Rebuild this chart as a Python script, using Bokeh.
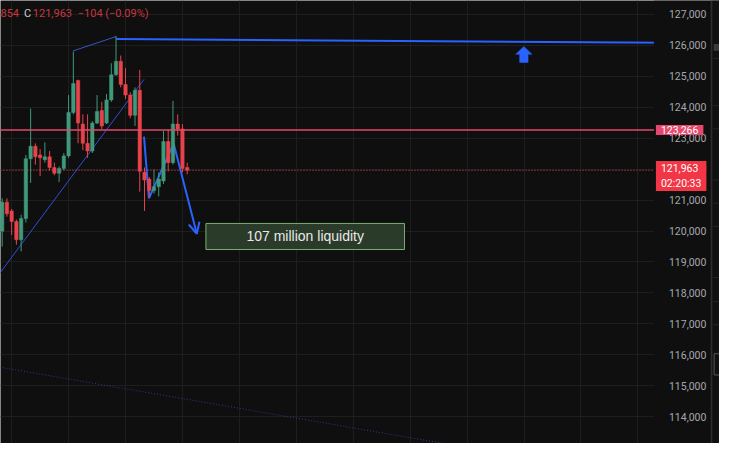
from bokeh.plotting import figure
from bokeh.models import (Range1d, FixedTicker, NumeralTickFormatter, Label,
                          Arrow, OpenHead, ColumnDataSource)
from bokeh.embed import file_html
from bokeh.resources import INLINE

# ---------------- data (bar index, price) ----------------
opens  = [119995,120931,120650,120307,119714,120401,122335,122741,122460,122304,
          122398,122054,121867,122023,122429,123833,124862,123458,122834,122585,
          123490,123895,123490,124238,125050,125486,124738,124394,123739,124550,
          121898,121680,121306,121430,121618,122897,122210,123458,123302,122054]
highs  = [121056,121056,120713,120370,120526,122460,123958,122834,122647,122866,
          122585,122210,122086,122522,124394,125798,124894,123771,123771,123552,
          124394,124176,124426,125424,126298,125674,125268,124488,124644,125206,
          122054,121742,121992,121898,123240,123271,124207,123771,123458,122210]
lows   = [119496,120463,119870,119558,119340,120276,121555,122148,121774,122210,
          121961,121805,121586,121961,122367,123771,122834,122616,122367,122522,
          123458,123302,123458,124176,125018,124644,124270,123646,123396,121274,
          120650,121087,121212,121118,121524,121930,122148,123084,121898,121836]
closes = [120931,120557,120307,119714,120401,122335,122741,122398,122367,122398,
          122054,121867,122023,122429,123833,124769,123490,122834,122585,123490,
          123864,123396,124238,125050,125486,124738,124394,123739,124550,121930,
          121649,121306,121430,121680,122897,122210,123458,123302,122023,121963]

price_ticks = [114000,115000,116000,117000,118000,119000,120000,
               121000,122000,123000,124000,125000,126000,127000]
grid_bars = [2,14,26,38,50,62,74,86,98,110,122,134]

resistance_level = 123266
last_price = 121963
countdown = "02:20:33"
header_parts = ["854", "C", "121,963", "\u2212104", "(\u22120.09%)"]

# drawings (bar index, price)
trend_bars, trend_prices = [-1.0, 29.9], [118532, 124903]
swing_bars, swing_prices = [14.9, 24.04], [125820, 126288]
top_bars, top_prices = [24.04, 140.0], [126204, 126086]
lower_bars, lower_prices = [-1.0, 140.0], [115613, 111895]
path_bars = [29.9, 30.93, 36.14, 41.03]
path_prices = [123053, 121056, 122828, 119911]
marker_bar, marker_price = 109.96, 125964
zone_left, zone_right, zone_top, zone_bottom = 42.95, 84.8, 120245, 119402
zone_text = "107 million liquidity"

# ---------------- geometry (reference-pixel helpers) ----------------
PX_BAR = 4.85      # reference pixels per bar
PX_PRICE = 31.2    # price per reference pixel
Y1 = 127452
Y0 = Y1 - 459 * PX_PRICE


def bx(rx):
    return (rx - 1.7) / PX_BAR


def py(ry):
    return Y1 - ry * PX_PRICE


X0, X1 = bx(0), bx(735)
PANE_END = bx(668)   # right edge of the price pane / price scale position

BG = "#0f0f0f"
GRID = "#1e1e1e"
UP = "#3f9a7b"
DOWN = "#e8434b"
BLUE = "#2962ff"
PINK = "#e5486c"
FONT = "Roboto"

p = figure(width=719, height=443, x_range=Range1d(X0, X1), y_range=Range1d(Y0, Y1),
           y_axis_location="right", x_axis_location=None,
           toolbar_location=None, output_backend="svg",
           min_border=0, background_fill_color=BG, border_fill_color=BG,
           outline_line_color=None)

p.ygrid.ticker = FixedTicker(ticks=price_ticks)
p.xgrid.ticker = FixedTicker(ticks=grid_bars)
for g in (p.xgrid, p.ygrid):
    g.grid_line_color = GRID
    g.grid_line_width = 1

ax = p.yaxis[0]
ax.fixed_location = PANE_END
ax.ticker = FixedTicker(ticks=price_ticks)
ax.formatter = NumeralTickFormatter(format="0,0")
ax.axis_line_color = None
ax.major_tick_line_color = None
ax.minor_tick_line_color = None
ax.major_label_standoff = 9
ax.major_label_text_color = "#a6a8ae"
ax.major_label_text_font = FONT
ax.major_label_text_font_size = "10.5px"

# drawings behind candles
p.line(lower_bars, lower_prices, line_color="#2c3b94", line_width=1, line_dash="1 2")
p.line(trend_bars, trend_prices, line_color="#3050d0", line_width=1)
p.line(swing_bars, swing_prices, line_color="#3556c8", line_width=1)
p.line(top_bars, top_prices, line_color=BLUE, line_width=2)
p.line(path_bars, path_prices, line_color=BLUE, line_width=2)

# candles
idx = list(range(len(opens)))
cols = [UP if c >= o else DOWN for o, c in zip(opens, closes)]
src = ColumnDataSource(dict(x=idx, o=opens, h=highs, l=lows, c=closes, col=cols,
                            top=[max(o, c) for o, c in zip(opens, closes)],
                            bot=[min(o, c) for o, c in zip(opens, closes)]))
p.segment(x0="x", y0="h", x1="x", y1="l", line_color="col", line_width=1, source=src)
p.vbar(x="x", width=0.72, top="top", bottom="bot", fill_color="col", line_color="col",
       line_width=0.5, source=src)

# price-scale area (covers drawings running past the pane)
p.quad(left=[PANE_END], right=[X1], top=[Y1], bottom=[Y0], fill_color=BG, line_color=None)
p.segment(x0=[bx(727)], y0=[Y0], x1=[bx(727)], y1=[Y1], line_color="#2c2c2c", line_width=2)
p.quad(left=[bx(728)], right=[X1], top=[Y1], bottom=[Y0], fill_color="#111111",
       line_color=None)
strip_rows = [60, 109, 133, 186, 210, 234, 287, 312, 336]
p.segment(x0=[bx(728.5)] * len(strip_rows), y0=[py(r) for r in strip_rows],
          x1=[X1] * len(strip_rows), y1=[py(r) for r in strip_rows],
          line_color="#262626", line_width=1)
p.quad(left=[bx(729)], right=[X1 + 1], top=[py(45)], bottom=[py(52)],
       fill_color="#3a3a3a", line_color=None)
p.quad(left=[bx(729.5)], right=[X1 + 1], top=[py(366)], bottom=[py(388)],
       fill_color=None, line_color="#555555", line_width=1)

# price lines
p.segment(x0=[X0], y0=[resistance_level], x1=[PANE_END], y1=[resistance_level],
          line_color=PINK, line_width=1.5)
p.segment(x0=[X0], y0=[last_price], x1=[PANE_END], y1=[last_price],
          line_color=DOWN, line_width=1, line_dash="1 2")

# arrow head at end of the path
p.add_layout(Arrow(x_start=path_bars[-2], y_start=path_prices[-2],
                   x_end=path_bars[-1], y_end=path_prices[-1], line_alpha=0,
                   end=OpenHead(size=11, line_color=BLUE, line_width=2)))

# up-arrow marker (shape given in reference pixels relative to tip)
shape_px = [(0, 0), (8.3, 8), (4.3, 8), (4.3, 16.6), (-4.3, 16.6), (-4.3, 8), (-8.3, 8)]
p.patch([marker_bar + dx / PX_BAR for dx, dy in shape_px],
        [marker_price - dy * PX_PRICE for dx, dy in shape_px],
        fill_color=BLUE, line_color=BLUE, line_width=0.5)

# liquidity zone
p.quad(left=[zone_left], right=[zone_right], top=[zone_top], bottom=[zone_bottom],
       fill_color="#2a3b2a", line_color="#76b072", line_width=1)
p.add_layout(Label(x=(zone_left + zone_right) / 2, y=(zone_top + zone_bottom) / 2,
                   text=zone_text, text_align="center", text_baseline="middle",
                   text_color="#e8e8e8", text_font="Liberation Sans", text_font_size="14px"))

# header text
hdr_x = [0, 24, 33, 79, 107]
hdr_col = ["#c8363f", "#c9ccd3", "#c8363f", "#c8363f", "#c8363f"]
for t, rx, c in zip(header_parts, hdr_x, hdr_col):
    p.add_layout(Label(x=bx(rx), y=py(13), text=t, text_align="left",
                       text_baseline="middle", text_color=c, text_font=FONT,
                       text_font_size="11px"))

# price-scale badges
p.add_layout(Label(x=bx(670), y=resistance_level, text=f"{resistance_level:,}",
                   text_align="left", text_baseline="middle", text_color="#ffffff",
                   text_font=FONT, text_font_size="10.5px",
                   background_fill_color=PINK,
                   padding=dict(left=5, right=5, top=1, bottom=1)))
p.add_layout(Label(x=bx(670), y=py(181.8), text=f"{last_price:,}\n{countdown}",
                   text_align="left", text_baseline="middle", text_color="#ffffff",
                   text_font=FONT, text_font_size="10.5px", text_line_height=1.15,
                   background_fill_color="#f23645",
                   padding=dict(left=5, right=5, top=1, bottom=1)))

open("out.html", "w").write(file_html(p, INLINE))
